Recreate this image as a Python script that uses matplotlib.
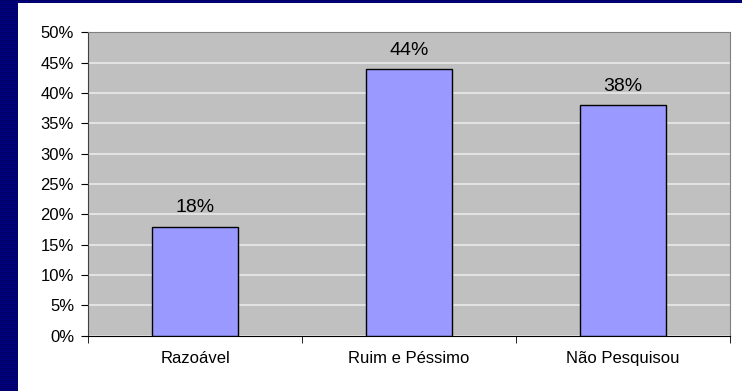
import numpy as np
import matplotlib.pyplot as plt
from matplotlib.patches import Rectangle
from matplotlib.ticker import PercentFormatter, FixedLocator

categories = ['Razoável', 'Ruim e Péssimo', 'Não Pesquisou']
values = [18, 44, 38]
labels = ['18%', '44%', '38%']

plt.rcParams['font.family'] = ['Liberation Sans', 'DejaVu Sans']

fig = plt.figure(figsize=(7.42, 3.91), dpi=100, facecolor='#000080')

# striped navy frame
for yy in np.arange(0, 1, 2 / 391):
    fig.add_artist(Rectangle((0, yy), 1, 1 / 391, transform=fig.transFigure,
                             color='#000066', lw=0, zorder=0))
fig.add_artist(Rectangle((18 / 742, 0), 1, 388 / 391, transform=fig.transFigure,
                         color='white', lw=0, zorder=1))

ax = fig.add_axes([88 / 742, 0.1414, (730 - 88) / 742, 0.9169 - 0.1414])
ax.set_zorder(2)
ax.set_facecolor('#C0C0C0')

x = np.arange(len(categories))
ax.bar(x, values, width=0.4, color='#9999FF', edgecolor='black', linewidth=1, zorder=3)
for xi, v, t in zip(x, values, labels):
    ax.text(xi, v + 1.7, t, ha='center', va='bottom', fontsize=14, zorder=4)

ax.set_xlim(-0.5, 2.5)
ax.set_ylim(0, 50)
ax.set_yticks(np.arange(0, 51, 5))
ax.yaxis.set_major_formatter(PercentFormatter(decimals=0))
ax.yaxis.grid(True, color='#EAEAEA', linewidth=1.2, zorder=1)
ax.set_axisbelow(True)

ax.set_xticks(x)
ax.set_xticklabels(categories)
ax.xaxis.set_minor_locator(FixedLocator([-0.5, 0.5, 1.5, 2.5]))
ax.tick_params(axis='x', which='major', length=0, pad=11, labelsize=12)
ax.tick_params(axis='x', which='minor', length=5, direction='out', color='black')
ax.tick_params(axis='y', length=5, direction='out', labelsize=12, pad=5)

for s in ['top', 'right']:
    ax.spines[s].set_color('#808080')
ax.spines['left'].set_color('#404040')
ax.spines['bottom'].set_color('black')

fig.savefig('out.png', dpi=100, facecolor=fig.get_facecolor())
